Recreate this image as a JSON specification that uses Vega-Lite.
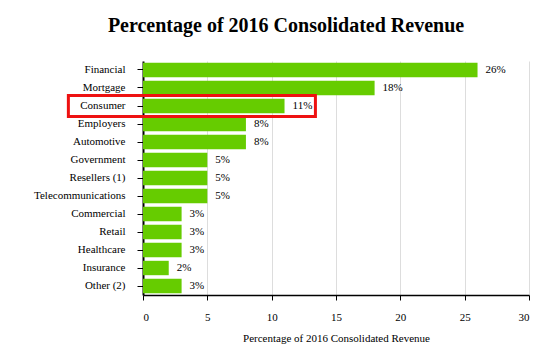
{
  "$schema": "https://vega.github.io/schema/vega-lite/v6.json",
  "autosize": "none",
  "width": 386,
  "height": 234,
  "padding": {"left": 143, "top": 61, "right": 24, "bottom": 67},
  "background": "white",
  "title": {
    "text": "Percentage of 2016 Consolidated Revenue",
    "font": "Liberation Serif, serif",
    "fontSize": 20,
    "fontWeight": "bold",
    "color": "black",
    "anchor": "middle",
    "dx": -50,
    "offset": 25
  },
  "config": {
    "view": {"stroke": null},
    "font": "Liberation Serif, serif",
    "axis": {"labelFont": "Liberation Serif, serif", "titleFont": "Liberation Serif, serif"},
    "text": {"font": "Liberation Serif, serif"}
  },
  "layer": [
    {
      "data": {"values": [
        {"category": "Financial", "pct": 26},
        {"category": "Mortgage", "pct": 18},
        {"category": "Consumer", "pct": 11},
        {"category": "Employers", "pct": 8},
        {"category": "Automotive", "pct": 8},
        {"category": "Government", "pct": 5},
        {"category": "Resellers (1)", "pct": 5},
        {"category": "Telecommunications", "pct": 5},
        {"category": "Commercial", "pct": 3},
        {"category": "Retail", "pct": 3},
        {"category": "Healthcare", "pct": 3},
        {"category": "Insurance", "pct": 2},
        {"category": "Other (2)", "pct": 3}
      ]},
      "layer": [
        {
          "mark": {"type": "bar", "color": "#66CC00"},
          "encoding": {
            "y": {
              "field": "category", "type": "nominal", "sort": null,
              "scale": {"paddingInner": 0.2, "paddingOuter": 0.1},
              "axis": {
                "title": null, "labelFont": "Liberation Serif, serif", "labelFontSize": 11,
                "labelColor": "black", "tickColor": "black", "tickSize": 6,
                "labelPadding": 12, "domainColor": "black", "domainWidth": 2
              }
            },
            "x": {
              "field": "pct", "type": "quantitative",
              "scale": {"domain": [0, 30]},
              "axis": {
                "title": "Percentage of 2016 Consolidated Revenue",
                "titleFont": "Liberation Serif, serif", "titleFontSize": 11, "titleFontWeight": "normal",
                "titleColor": "black", "titlePadding": 10,
                "values": [0, 5, 10, 15, 20, 25, 30],
                "labelFont": "Liberation Serif, serif", "labelFontSize": 11, "labelColor": "black",
                "labelPadding": 11, "tickColor": "black", "tickSize": 5,
                "domainColor": "black", "domainWidth": 1.5,
                "gridColor": "#dddddd", "grid": true
              }
            }
          }
        },
        {
          "mark": {"type": "text", "align": "left", "dx": 8, "font": "Liberation Serif, serif", "fontSize": 11, "color": "black"},
          "encoding": {
            "y": {"field": "category", "type": "nominal", "sort": null},
            "x": {"field": "pct", "type": "quantitative"},
            "text": {"field": "label", "type": "nominal"}
          },
          "transform": [{"calculate": "datum.pct + '%'", "as": "label"}]
        }
      ]
    },
    {
      "data": {"values": [{"category": "Consumer", "from": -5.8, "to": 13.4}]},
      "mark": {"type": "bar", "fill": null, "stroke": "#ee1111", "strokeWidth": 3, "clip": false, "height": 21},
      "encoding": {
        "y": {"field": "category", "type": "nominal", "sort": null},
        "x": {"field": "from", "type": "quantitative"},
        "x2": {"field": "to"}
      }
    }
  ]
}
